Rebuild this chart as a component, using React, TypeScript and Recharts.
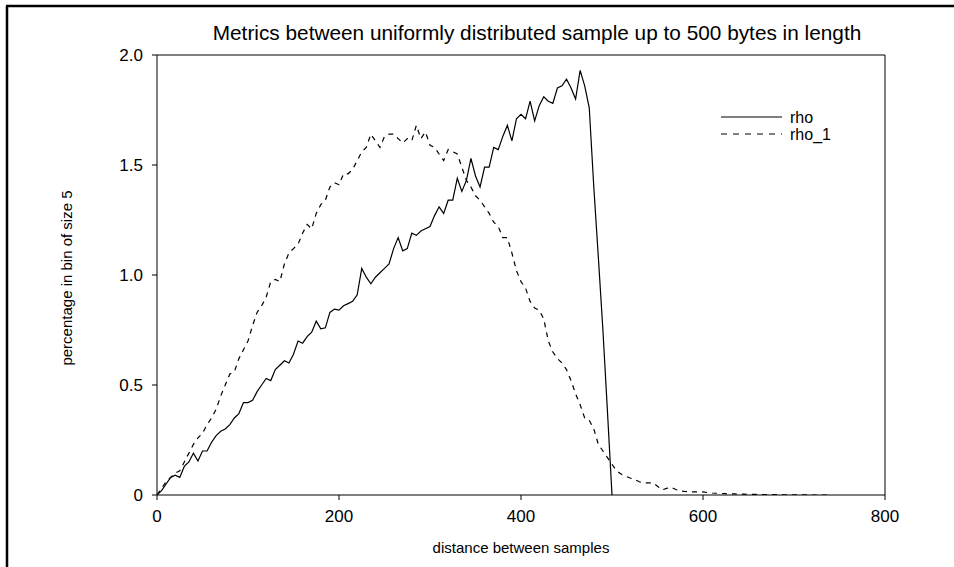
import React from "react";
import { LineChart, Line, XAxis, YAxis, ReferenceLine } from "recharts";

const BIN_SIZE = 5;

const xTicks = [0, 200, 400, 600, 800];
const yTicks = [0, 0.5, 1.0, 1.5, 2.0];

const seriesNames = ["rho", "rho_1"];

const rhoValues = [
  0.0, 0.02, 0.05, 0.08, 0.09, 0.08, 0.13, 0.15, 0.19, 0.155,
  0.2, 0.2, 0.24, 0.27, 0.29, 0.3, 0.32, 0.35, 0.37, 0.42,
  0.42, 0.43, 0.47, 0.5, 0.53, 0.52, 0.57, 0.59, 0.61, 0.6,
  0.64, 0.7, 0.69, 0.72, 0.74, 0.79, 0.755, 0.76, 0.83, 0.845,
  0.84, 0.86, 0.87, 0.88, 0.91, 1.03, 0.99, 0.96, 0.99, 1.01,
  1.03, 1.05, 1.12, 1.17, 1.11, 1.12, 1.19, 1.18, 1.2, 1.21,
  1.22, 1.27, 1.31, 1.28, 1.34, 1.34, 1.44, 1.38, 1.43, 1.53,
  1.45, 1.4, 1.49, 1.49, 1.58, 1.57, 1.63, 1.68, 1.61, 1.71,
  1.73, 1.71, 1.79, 1.7, 1.77, 1.81, 1.79, 1.78, 1.85, 1.86,
  1.89, 1.85, 1.8, 1.93, 1.86, 1.76, 1.4, 1.08, 0.75, 0.38,
  0.0,
];

const rho1Values = [
  0.0, 0.03, 0.06, 0.08, 0.1, 0.11, 0.15, 0.19, 0.23, 0.26,
  0.28, 0.32, 0.35, 0.39, 0.45, 0.5, 0.55, 0.56, 0.62, 0.66,
  0.7, 0.77, 0.83, 0.86, 0.9, 0.97, 0.98, 0.97, 1.05, 1.1,
  1.12, 1.14, 1.19, 1.23, 1.21, 1.28, 1.32, 1.34, 1.4, 1.42,
  1.41, 1.46, 1.46, 1.48, 1.52, 1.56, 1.58, 1.64, 1.61, 1.58,
  1.63, 1.64, 1.64, 1.62, 1.6, 1.62, 1.61, 1.68, 1.62, 1.65,
  1.59, 1.58, 1.55, 1.52, 1.57, 1.56, 1.55, 1.49, 1.43, 1.4,
  1.36, 1.34, 1.31, 1.28, 1.24, 1.22, 1.17, 1.17, 1.1, 1.02,
  0.97, 0.94, 0.88, 0.85, 0.84, 0.8, 0.7, 0.65, 0.62, 0.6,
  0.57, 0.52, 0.46, 0.41, 0.35, 0.34, 0.3, 0.23, 0.2, 0.17,
  0.14, 0.11, 0.095, 0.085, 0.077, 0.07, 0.06, 0.055, 0.055, 0.055,
  0.04, 0.023, 0.03, 0.036, 0.025, 0.018, 0.016, 0.015, 0.014, 0.014,
  0.014, 0.011, 0.009, 0.008, 0.007, 0.006, 0.005, 0.005, 0.004, 0.004,
  0.003, 0.003, 0.003, 0.002, 0.002, 0.002, 0.002, 0.001, 0.001, 0.001,
  0.001, 0.001, 0.001, 0.001, 0.0, 0.0, 0.0, 0.0, 0.0,
];

const rhoData = rhoValues.map((v, i) => ({ x: i * BIN_SIZE, v }));
const rho1Data = rho1Values.map((v, i) => ({ x: i * BIN_SIZE, v }));

const FONT = '"Liberation Sans", Arial, sans-serif';

export default function App() {
  return (
    <div
      style={{
        position: "absolute",
        left: 0,
        top: 0,
        width: 954,
        height: 567,
        background: "#fff",
        fontFamily: FONT,
        overflow: "hidden",
      }}
    >
      <LineChart
        width={954}
        height={567}
        margin={{ top: 55, right: 69, bottom: 42, left: 97 }}
        style={{ fontFamily: FONT }}
      >
        <XAxis
          type="number"
          dataKey="x"
          domain={[0, 800]}
          ticks={xTicks}
          height={30}
          tickSize={5}
          tickMargin={10}
          stroke="#000"
          tick={{ fill: "#000", fontSize: 17 }}
          allowDataOverflow
        />
        <YAxis
          type="number"
          domain={[0, 2]}
          ticks={yTicks}
          width={60}
          tickSize={5}
          tickMargin={9}
          stroke="#000"
          tick={{ fill: "#000", fontSize: 17 }}
          tickFormatter={(v: number) => (v === 0 ? "0" : v.toFixed(1))}
          allowDataOverflow
        />
        <ReferenceLine y={2} stroke="#000" strokeWidth={1} />
        <ReferenceLine x={800} stroke="#000" strokeWidth={1} />
        <Line
          data={rhoData}
          dataKey="v"
          name={seriesNames[0]}
          type="linear"
          stroke="#000"
          strokeWidth={1.2}
          dot={false}
          isAnimationActive={false}
        />
        <Line
          data={rho1Data}
          dataKey="v"
          name={seriesNames[1]}
          type="linear"
          stroke="#000"
          strokeWidth={1.2}
          strokeDasharray="5 5"
          dot={false}
          isAnimationActive={false}
        />
      </LineChart>
      <svg
        width={954}
        height={567}
        style={{ position: "absolute", left: 0, top: 0, pointerEvents: "none" }}
        fontFamily={FONT}
      >
        <line x1={7} y1={6} x2={7} y2={567} stroke="#000" strokeWidth={2.5} />
        <line x1={6} y1={6} x2={954} y2={6} stroke="#000" strokeWidth={2.5} />
        <text x={537} y={40} textAnchor="middle" fontSize={20.8} fill="#000">
          Metrics between uniformly distributed sample up to 500 bytes in length
        </text>
        <text x={521} y={553} textAnchor="middle" fontSize={15} fill="#000">
          distance between samples
        </text>
        <text
          x={0}
          y={0}
          textAnchor="middle"
          fontSize={15}
          fill="#000"
          transform="translate(72 278) rotate(-90)"
        >
          percentage in bin of size 5
        </text>
        <line x1={721} y1={117} x2={782} y2={117} stroke="#000" strokeWidth={1.2} />
        <text x={790} y={123} fontSize={16} fill="#000">{seriesNames[0]}</text>
        <line x1={721} y1={134} x2={782} y2={134} stroke="#000" strokeWidth={1.2} strokeDasharray="6 6" />
        <text x={790} y={140} fontSize={16} fill="#000">{seriesNames[1]}</text>
      </svg>
    </div>
  );
}
